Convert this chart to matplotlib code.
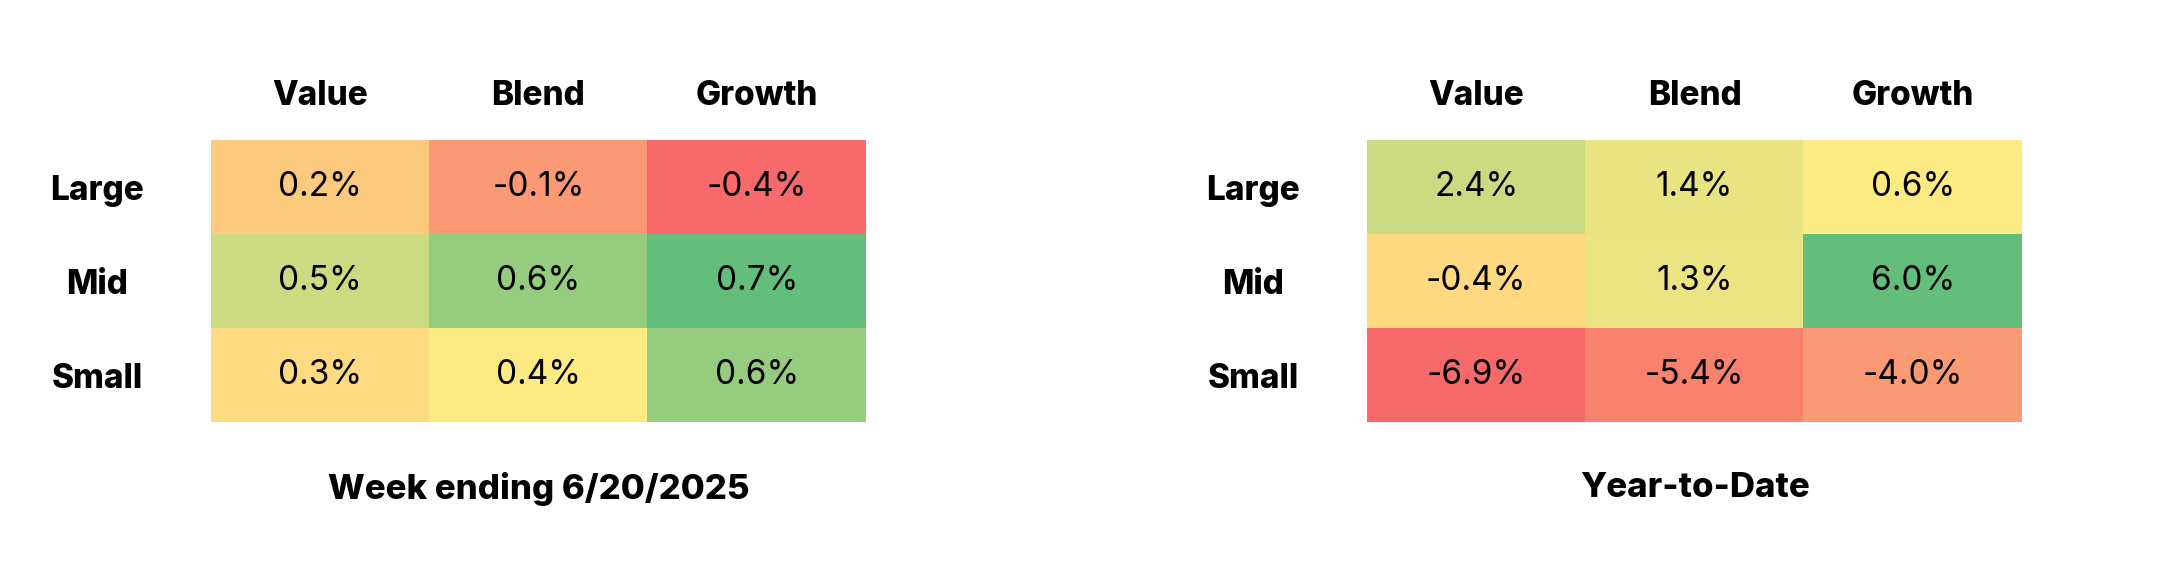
import numpy as np
import matplotlib
matplotlib.use("Agg")
import matplotlib.pyplot as plt
from matplotlib.colors import LinearSegmentedColormap, TwoSlopeNorm

# Data
columns = ["Value", "Blend", "Growth"]
rows = ["Large", "Mid", "Small"]
week_vals = [[0.2, -0.1, -0.4],
             [0.5, 0.6, 0.7],
             [0.3, 0.4, 0.6]]
ytd_vals = [[2.4, 1.4, 0.6],
            [-0.4, 1.3, 6.0],
            [-6.9, -5.4, -4.0]]
titles = ["Week ending 6/20/2025", "Year-to-Date"]

plt.rcParams['font.family'] = ['Inter', 'DejaVu Sans']

# Excel style 3-colour scale: red -> yellow (median) -> green
cmap = LinearSegmentedColormap.from_list("rdylgn_xl", ["#F8696B", "#FFEB84", "#63BE7B"])

fig = plt.figure(figsize=(21.6, 5.8), dpi=100)

panels = [(week_vals, titles[0], [0.0977, 0.2724, 0.3032, 0.4862]),
          (ytd_vals, titles[1], [0.6329, 0.2724, 0.3032, 0.4862])]

for vals, title, rect in panels:
    data = np.array(vals)
    ax = fig.add_axes(rect)
    norm = TwoSlopeNorm(vmin=data.min(), vcenter=np.median(data), vmax=data.max())
    ax.imshow(data, cmap=cmap, norm=norm, aspect='auto')

    for i in range(data.shape[0]):
        for j in range(data.shape[1]):
            ax.text(j, i, f"{data[i, j]:.1f}%", ha='center', va='center',
                    fontsize=24, color='black')

    ax.set_xticks(range(len(columns)))
    ax.set_xticklabels(columns, fontsize=24, fontweight='heavy')
    ax.xaxis.tick_top()
    ax.set_yticks(range(len(rows)))
    ax.set_yticklabels(rows, fontsize=24, fontweight='heavy', ha='center')
    ax.tick_params(length=0)
    ax.tick_params(axis='x', pad=20)
    ax.tick_params(axis='y', pad=82)
    for s in ax.spines.values():
        s.set_visible(False)

    ax.set_xlabel(title, fontsize=25, fontweight='heavy', labelpad=36)

fig.savefig("out.png", dpi=100, facecolor='white')
